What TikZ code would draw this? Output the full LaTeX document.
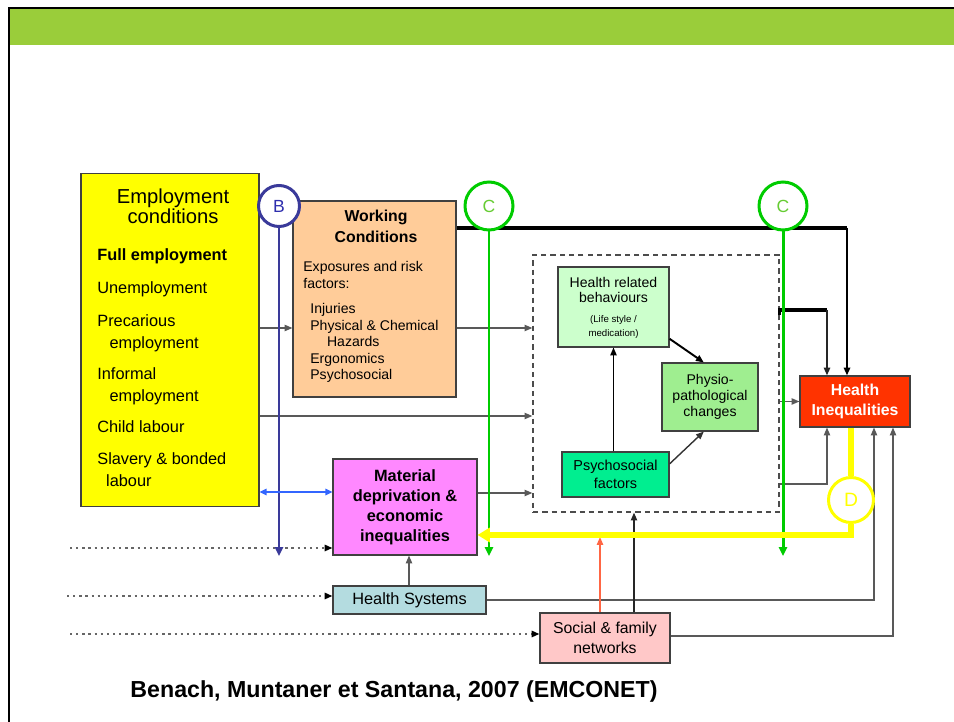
\documentclass[tikz,border=0pt]{standalone}
\usepackage{fontspec}
\setmainfont{Liberation Sans}
\usetikzlibrary{arrows.meta}
\definecolor{bandgreen}{HTML}{9ACD3A}
\definecolor{empyellow}{HTML}{FFFF00}
\definecolor{workorange}{HTML}{FFCC99}
\definecolor{behavgreen}{HTML}{CCFFCC}
\definecolor{physiogreen}{HTML}{9FEE90}
\definecolor{psychogreen}{HTML}{00EE90}
\definecolor{hired}{HTML}{FF3300}
\definecolor{matpink}{HTML}{FF88FF}
\definecolor{hsblue}{HTML}{B4DCE0}
\definecolor{socpink}{HTML}{FFC8C8}
\definecolor{bnavy}{HTML}{3A3A9A}
\definecolor{bblue}{HTML}{3366FF}
\definecolor{cgreen}{HTML}{00CC00}
\definecolor{ctext}{HTML}{66CC33}
\definecolor{redarrow}{HTML}{FF6644}

\begin{document}
\begin{tikzpicture}[x=0.02cm, y=-0.02cm,
        box/.style={rectangle, draw=black!75, line width=0.6pt, inner sep=1pt, align=center},
        item/.style={anchor=west, inner sep=0pt, align=left, font=\fontsize{9.3}{12.5}\selectfont},
        letter/.style={circle, draw, line width=1.7pt, fill=white, inner sep=0pt, font=\fontsize{10}{12}\selectfont},
        arr/.style={-{Triangle[length=4.5pt,width=3.6pt]}, draw=black!65, line width=0.8pt},
        dotarr/.style={-{Triangle[length=4.5pt,width=3.6pt,color=black]}, draw=black!60, line width=1.3pt, dash pattern=on 1.3pt off 2.2pt}
    ]
        \useasboundingbox (0,0) rectangle (954,722);
        % Slide frame
        \fill[bandgreen] (9,9) rectangle (954,45);
        \draw[line width=1.2pt] (9,722) -- (9,8) -- (954,8);

        % Employment conditions
        \node[box, fill=empyellow, minimum width=3.56cm, minimum height=6.68cm] (emp) at (170,340) {};
        \node[font=\fontsize{11.5}{11.5}\selectfont, align=center] (emptitle) at (173,206) {Employment\\conditions};
        \node[item] (full) at (97,256) {\bfseries Full employment};
        \node[item] (unemp) at (97,289) {Unemployment};
        \node[item] (prec) at (97,333) {Precarious\\\hspace*{7pt}employment};
        \node[item] (inf) at (97,386) {Informal\\\hspace*{7pt}employment};
        \node[item] (child) at (97,427) {Child labour};
        \node[item] (slav) at (97,470) {Slavery \& bonded\\\hspace*{5pt}labour};

        % Working conditions
        \node[box, fill=workorange, minimum width=3.26cm, minimum height=3.92cm] (work) at (374.5,299) {};
        \node[font=\fontsize{9}{12}\selectfont\bfseries, align=center] (worktitle) at (376,226) {Working\\Conditions};
        \node[item, font=\fontsize{8}{10.2}\selectfont] (expo) at (303,275) {Exposures and risk\\factors:};
        \node[item, font=\fontsize{8}{9.4}\selectfont] (risks) at (310,343) {Injuries\\Physical \& Chemical\\\hspace*{9.5pt}Hazards\\Ergonomics\\Psychosocial};

        % Dashed block and its boxes
        \node[rectangle, draw=black!70, line width=0.7pt, dash pattern=on 3pt off 2.3pt, minimum width=4.92cm, minimum height=5.14cm] (dash) at (656,383.5) {};
        \node[box, fill=behavgreen, minimum width=2.22cm, minimum height=1.6cm] (hrb) at (613.5,307) {};
        \node[align=center, font=\fontsize{8}{9}\selectfont] (hrbtext) at (613.5,290) {Health related\\behaviours};
        \node[align=center, font=\fontsize{5.5}{8}\selectfont] (hrbnote) at (613.5,327) {(Life style /\\medication)};
        \node[box, fill=physiogreen, minimum width=1.92cm, minimum height=1.36cm, font=\fontsize{8}{9.3}\selectfont] (physio) at (710,397) {Physio-\\pathological\\changes};
        \node[box, fill=psychogreen, minimum width=2.14cm, minimum height=0.9cm, font=\fontsize{8.2}{10.5}\selectfont] (psycho) at (615.5,474.5) {Psychosocial\\factors};

        % Health inequalities
        \node[box, fill=hired, text=white, minimum width=2.2cm, minimum height=1.02cm, font=\fontsize{9}{11.3}\selectfont\bfseries] (hi) at (855,401.5) {Health\\Inequalities};

        % Lower boxes
        \node[box, fill=matpink, minimum width=2.88cm, minimum height=1.92cm, font=\fontsize{9.3}{11.3}\selectfont\bfseries] (mat) at (405,507) {Material\\deprivation \&\\economic\\inequalities};
        \node[box, fill=hsblue, minimum width=3.06cm, minimum height=0.56cm, font=\fontsize{9.3}{11}\selectfont] (hs) at (409.5,600) {Health Systems};
        \node[box, fill=socpink, minimum width=2.6cm, minimum height=1cm, font=\fontsize{9}{11.3}\selectfont] (soc) at (605,638) {Social \& family\\networks};

        % Gray arrows
        \draw[arr] (emp.east |- 0,328) -- (work.west |- 0,328);
        \draw[arr] (work.east |- 0,328) -- (dash.west |- 0,328);
        \draw[arr] (emp.east |- 0,416) -- (dash.west |- 0,416);
        \draw[arr] (mat.east |- 0,493) -- (dash.west |- 0,493);
        \draw[arr] (hs.north -| 409,0) -- (mat.south -| 409,0);
        \draw[arr] (hs.east) -- (874,600) -- (hi.south -| 874,0);
        \draw[arr] (soc.east |- 0,636) -- (893,636) -- (hi.south -| 893,0);
        \draw[arr, draw=black!85] (soc.north -| 634,0) -- (dash.south -| 634,0);
        \draw[arr, draw=redarrow] (soc.north -| 600,0) -- (600,537);
        \draw[arr] (dash.east |- hi.west) -- (hi.west);
        \draw[arr] (dash.east |- 0,484) -- (827,484) -- (hi.south -| 827,0);

        % Arrows inside dashed block
        \draw[arr, draw=black] (psycho.north -| hrb.south) -- (hrb.south);
        \draw[arr, draw=black, line width=1.1pt] ([yshift=5pt]hrb.south east) -- ([xshift=-3.5pt]physio.north);
        \draw[arr, draw=black!80] ([yshift=6pt]psycho.east) -- ([xshift=-3.5pt]physio.south);

        % Thick black lines
        \draw[draw=black, line width=2.4pt] (work.east |- 0,228) -- (847,228);
        \draw[arr, draw=black, line width=1.3pt] (847,228) -- (hi.north -| 847,0);
        \draw[draw=black, line width=1.8pt] ([yshift=-3pt]dash.east |- 0,310) -- (dash.east |- 0,310) -- (827,310);
        \draw[arr, draw=black!85, line width=1pt] (827,310) -- (hi.north -| 827,0);

        % Dotted inputs
        \draw[dotarr] (70,548) -- (mat.west |- 0,548);
        \draw[dotarr] (67,596) -- (hs.west |- 0,596);
        \draw[dotarr] (70,634) -- (soc.west |- 0,634);

        % Pathways B, C, D
        \node[letter, draw=bnavy, text=bnavy!80!blue, minimum size=0.82cm] (B) at (279,206) {B};
        \draw[-{Triangle[length=5pt,width=4.5pt]}, draw=bnavy, line width=1.7pt] (B.south) -- (279,556);
        \draw[{Triangle[length=4pt,width=3.6pt]}-{Triangle[length=4pt,width=3.6pt]}, draw=bblue, line width=0.9pt] (emp.east |- 0,492) -- (mat.west |- 0,492);
        \node[letter, draw=cgreen, text=ctext, minimum size=0.96cm] (C1) at (489,206) {C};
        \node[letter, draw=cgreen, text=ctext, minimum size=0.96cm] (C2) at (783,206) {C};
        \draw[-{Triangle[length=5pt,width=4.5pt]}, draw=cgreen, line width=1.7pt] (C1.south) -- (489,556);
        \draw[-{Triangle[length=5pt,width=4.5pt]}, draw=cgreen, line width=1.7pt] (C2.south) -- (783,556);
        \node[letter, draw=empyellow, text=empyellow, minimum size=0.9cm, font=\fontsize{11}{12}\selectfont] (D) at (851,500) {D};
        \draw[draw=empyellow, line width=3.4pt] (D.north) -- (D.north |- hi.south);
        \draw[-{Triangle[length=7pt,width=8pt]}, draw=empyellow, line width=3.4pt] (D.south) -- (851,535) -- (mat.east |- 0,535);

        % Source
        \node[font=\fontsize{13.2}{15}\selectfont\bfseries] (source) at (394,692) {Benach, Muntaner et Santana, 2007 (EMCONET)};
    \end{tikzpicture}
\end{document}
